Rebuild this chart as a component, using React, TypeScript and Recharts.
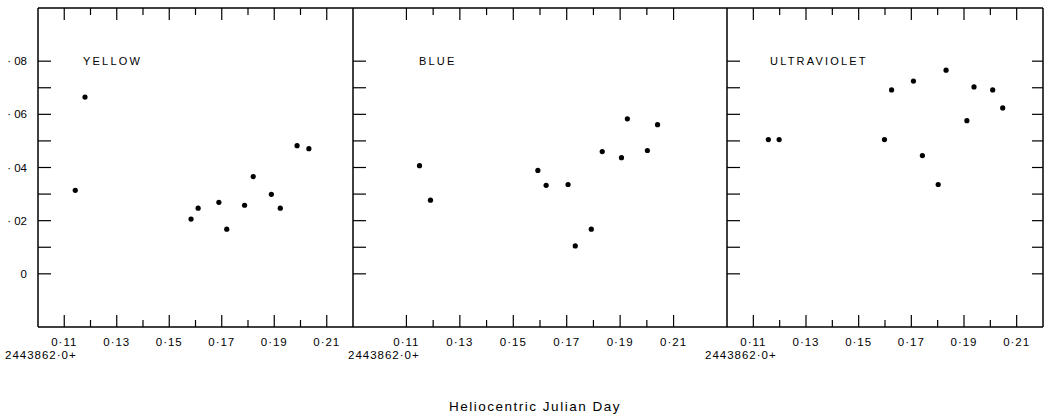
import React from 'react'
import { ScatterChart, Scatter, XAxis, YAxis, ReferenceLine } from 'recharts'

// Yellow band: [day offset, value]
const yellowX = [0.1142, 0.1179, 0.1583, 0.161, 0.1689, 0.1719, 0.1787, 0.182, 0.1889, 0.1923, 0.1987, 0.2032];
const yellowY = [0.0314, 0.0665, 0.0206, 0.0247, 0.0269, 0.0168, 0.0258, 0.0366, 0.0299, 0.0247, 0.0482, 0.0471];

const blueX = [0.1149, 0.119, 0.1592, 0.1623, 0.1705, 0.1732, 0.1792, 0.1833, 0.1905, 0.1927, 0.2002, 0.204];
const blueY = [0.0407, 0.0277, 0.0389, 0.0333, 0.0336, 0.0105, 0.0168, 0.046, 0.0437, 0.0583, 0.0464, 0.0561];

const uvX = [0.1157, 0.1198, 0.1598, 0.1625, 0.1708, 0.1742, 0.1802, 0.1832, 0.1911, 0.1938, 0.2009, 0.2047];
const uvY = [0.0505, 0.0505, 0.0505, 0.0692, 0.0725, 0.0445, 0.0336, 0.0766, 0.0576, 0.0703, 0.0692, 0.0624];

const xTicks = [0.11, 0.12, 0.13, 0.14, 0.15, 0.16, 0.17, 0.18, 0.19, 0.20, 0.21];
const xMajorTicks = [0.11, 0.13, 0.15, 0.17, 0.19, 0.21];
const yTicks = [0, 0.01, 0.02, 0.03, 0.04, 0.05, 0.06, 0.07, 0.08];
const yLabelTicks = [0, 0.02, 0.04, 0.06, 0.08];

const FONT = '"Liberation Sans", Arial, sans-serif';
const H = 418;
const TOP = 8;
const BOTTOM = 327;
const Y_DOMAIN: [number, number] = [-0.02, 0.1];

const toPoints = (xs: number[], ys: number[]) => xs.map((x, i) => ({ x, y: ys[i] }));

const fmtX = (v: number) => '0·' + Math.round(v * 100);
const fmtY = (v: number) => (v === 0 ? '0' : '· ' + String(Math.round(v * 100)).padStart(2, '0'));

function XLabel(props: any) {
    const { x, y, payload } = props;
    if (!xMajorTicks.includes(payload.value)) return <g />;
    return (
        <text x={x} y={Number(y) + 10} dy="0.8em" textAnchor="middle" fontSize={11.5} fontFamily={FONT}
            letterSpacing={1} fill="#000">{fmtX(payload.value)}</text>
    )
}

// inward tick mark on the left frame edge, with optional label
function YTick(props: any) {
    const { x, y, payload, labels } = props;
    return (
        <g>
            <line x1={x} x2={Number(x) + 13} y1={y} y2={y} stroke="#000" strokeWidth={1.2} />
            {labels && yLabelTicks.includes(payload.value) && (
                <text x={Number(x) - 11} y={y} dy="0.35em" textAnchor="end" fontSize={11.5} fontFamily={FONT}
                    fill="#000">{fmtY(payload.value)}</text>
            )}
        </g>
    )
}

// frame tick marks drawn as a series, so they go through the chart scales
function FrameTick(props: any) {
    const { cx, cy, payload } = props;
    if (payload.edge === 'right') {
        return <line x1={cx} x2={cx - 11} y1={cy} y2={cy} stroke="#000" strokeWidth={1.2} />;
    }
    const len = xMajorTicks.includes(payload.x) ? 12 : 7;
    const dir = payload.edge === 'top' ? 1 : -1;
    return <line x1={cx} x2={cx} y1={cy} y2={cy + dir * len} stroke="#000" strokeWidth={1.2} />;
}

interface PanelProps {
    name: string
    data: { x: number, y: number }[]
    domain: [number, number]
    left: number
    right: number
    yLabels?: boolean
    rightTicks?: boolean
    nameX: number
}

function Panel({ name, data, domain, left, right, yLabels, rightTicks, nameX }: PanelProps) {
    const axisStroke = { stroke: '#000', strokeWidth: 1.5 };
    const leftW = yLabels ? 38 : 10;
    const rightW = 10;
    const chartLeft = left - leftW;
    const chartW = right + rightW - chartLeft;
    const frame = [
        ...xTicks.map((t) => ({ x: t, y: Y_DOMAIN[0], edge: 'bottom' })),
        ...xTicks.map((t) => ({ x: t, y: Y_DOMAIN[1], edge: 'top' })),
        ...(rightTicks ? yTicks.map((t) => ({ x: domain[1], y: t, edge: 'right' })) : []),
    ];
    return (
        <div style={{ position: 'absolute', left: chartLeft, top: 0, width: chartW, height: H }}>
            <ScatterChart width={chartW} height={H} margin={{ top: TOP, left: 0, right: rightW, bottom: 0 }}>
                <XAxis xAxisId="b" dataKey="x" type="number" domain={domain} allowDataOverflow interval={0}
                    ticks={xTicks} tickLine={false} tickSize={0} tickMargin={0} axisLine={axisStroke}
                    height={H - BOTTOM} tick={XLabel} />
                <YAxis yAxisId="l" dataKey="y" type="number" domain={Y_DOMAIN} allowDataOverflow interval={0}
                    ticks={yTicks} tickLine={false} tickSize={0} tickMargin={0} axisLine={axisStroke} width={leftW}
                    tick={(p: any) => <YTick {...p} labels={yLabels} />} />
                {/* top and right frame edges */}
                <ReferenceLine xAxisId="b" yAxisId="l" y={Y_DOMAIN[1]} stroke="#000" strokeWidth={1.5} ifOverflow="visible" />
                {rightTicks && (
                    <ReferenceLine xAxisId="b" yAxisId="l" x={domain[1]} stroke="#000" strokeWidth={1.5} ifOverflow="visible" />
                )}
                <Scatter data={frame} xAxisId="b" yAxisId="l" isAnimationActive={false} shape={FrameTick} />
                <Scatter data={data} xAxisId="b" yAxisId="l" fill="#000" isAnimationActive={false}
                    shape={(p: any) => <circle cx={p.cx} cy={p.cy} r={2.6} fill="#000" />} />
            </ScatterChart>
            <div style={{ position: 'absolute', left: nameX - chartLeft, top: 55, fontFamily: FONT, fontSize: 11, letterSpacing: 2.2, color: '#000', whiteSpace: 'nowrap' }}>
                {name}
            </div>
        </div>
    )
}

const offsetStyle: React.CSSProperties = {
    position: 'absolute', top: 349, fontFamily: FONT, fontSize: 11.5, letterSpacing: 1, color: '#000', whiteSpace: 'nowrap'
};

export default function App() {
    return (
        <div style={{ position: 'absolute', left: 0, top: 0, width: 1053, height: H, background: '#fff', overflow: 'hidden' }}>
            <Panel name="YELLOW" data={toPoints(yellowX, yellowY)} domain={[0.10, 0.22]} left={38} right={353} yLabels nameX={83} />
            <Panel name="BLUE" data={toPoints(blueX, blueY)} domain={[0.09, 0.23]} left={353} right={727} nameX={419} />
            <Panel name="ULTRAVIOLET" data={toPoints(uvX, uvY)} domain={[0.10, 0.22]} left={727} right={1043} rightTicks nameX={770} />
            <div style={{ ...offsetStyle, left: 5 }}>2443862·0+</div>
            <div style={{ ...offsetStyle, left: 348 }}>2443862·0+</div>
            <div style={{ ...offsetStyle, left: 705 }}>2443862·0+</div>
            <div style={{ position: 'absolute', left: 0, width: 1070, top: 399, textAlign: 'center', fontFamily: FONT, fontSize: 13.5, letterSpacing: 1.5, color: '#000' }}>
                Heliocentric Julian Day
            </div>
        </div>
    )
}
